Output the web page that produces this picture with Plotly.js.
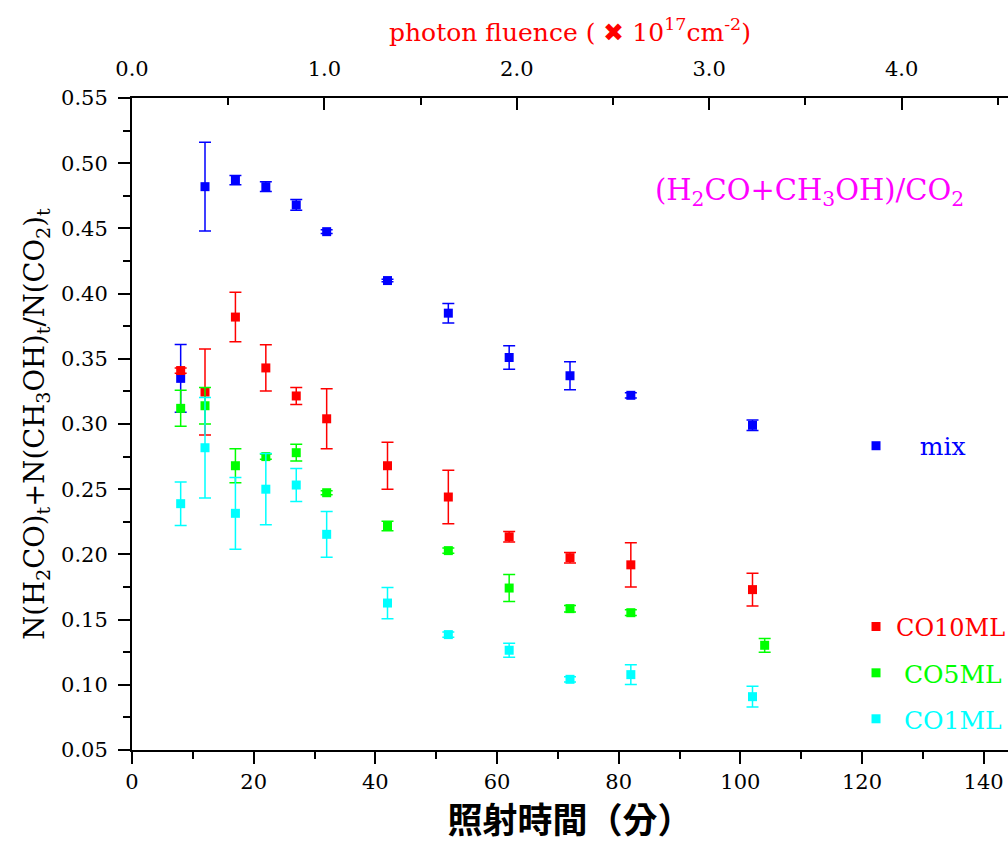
<!DOCTYPE html>
<html>
<head>
<meta charset="utf-8">
<script src="https://cdn.plot.ly/plotly-3.0.1.min.js"></script>
<style>html,body{margin:0;padding:0;background:#fff;}#chart{width:1008px;height:843px;}</style>
</head>
<body>
<div id="chart"></div>
<script>
// irradiation time (minutes)
const minutes = [8, 12, 17, 22, 27, 32, 42, 52, 62, 72, 82, 102];
const minutesCO5 = [8, 12, 17, 22, 27, 32, 42, 52, 62, 72, 82, 104];

// (H2CO+CH3OH)/CO2 ratios and error bars
const mixRatio = [0.335, 0.482, 0.487, 0.482, 0.468, 0.4475, 0.410, 0.385, 0.351, 0.337, 0.322, 0.299];
const mixErr   = [0.026, 0.034, 0.0036, 0.0037, 0.0041, 0.0015, 0.001, 0.0075, 0.009, 0.0107, 0.002, 0.004];

const co10Ratio = [0.341, 0.3245, 0.382, 0.343, 0.3215, 0.304, 0.268, 0.244, 0.2135, 0.1975, 0.192, 0.173];
const co10Err   = [0.002, 0.033, 0.019, 0.0177, 0.0065, 0.023, 0.018, 0.0205, 0.004, 0.004, 0.017, 0.0125];

const co5Ratio = [0.312, 0.314, 0.268, 0.275, 0.278, 0.2473, 0.2218, 0.2029, 0.1742, 0.1584, 0.1553, 0.1303];
const co5Err   = [0.0138, 0.014, 0.013, 0.002, 0.0064, 0.0015, 0.0037, 0.002, 0.0103, 0.0025, 0.0022, 0.0053];

const co1Ratio = [0.2389, 0.2818, 0.2315, 0.25, 0.2532, 0.2154, 0.1627, 0.1385, 0.1265, 0.1042, 0.1078, 0.0909];
const co1Err   = [0.0167, 0.0386, 0.0275, 0.0273, 0.0126, 0.0175, 0.012, 0.002, 0.0054, 0.002, 0.0075, 0.008];

const seriesNames = ['mix', 'CO10ML', 'CO5ML', 'CO1ML'];
const xTickVals = [0, 20, 40, 60, 80, 100, 120, 140];
// photon fluence (x 10^17 cm^-2) scale on top axis
const fluenceTickVals = [0, 1, 2, 3, 4];

const serif = 'DejaVu Serif, Liberation Serif, serif';
const NB = '\u00a0';

function series(x, y, err, color, name, legendId) {
  return {
    type: 'scatter', mode: 'markers', x: x, y: y, name: name,
    legend: legendId,
    marker: {symbol: 'square', size: 9, color: color},
    error_y: {type: 'data', array: err, visible: true, color: color, thickness: 1.5, width: 6},
    hoverinfo: 'x+y'
  };
}

const data = [
  series(minutes, mixRatio, mixErr, '#0000ff', NB.repeat(3) + '<span style="color:#0000ff">' + seriesNames[0] + '</span>', 'legend2'),
  series(minutes, co10Ratio, co10Err, '#ff0000', '<span style="color:#ff0000">' + seriesNames[1] + '</span>', 'legend'),
  series(minutesCO5, co5Ratio, co5Err, '#00ff00', NB + '<span style="color:#00ff00">' + seriesNames[2] + '</span>', 'legend3'),
  series(minutes, co1Ratio, co1Err, '#00ffff', NB + '<span style="color:#00ffff">' + seriesNames[3] + '</span>', 'legend4'),
  // invisible carrier so the top fluence axis is drawn
  {type: 'scatter', mode: 'markers', x: fluenceTickVals, y: fluenceTickVals.map(() => null),
   xaxis: 'x2', yaxis: 'y', showlegend: false, hoverinfo: 'skip', marker: {opacity: 0}}
];

function legendAt(y, size) {
  return {x: 0.8265, xanchor: 'left', y: y, yanchor: 'middle', xref: 'paper', yref: 'paper',
          bgcolor: 'rgba(0,0,0,0)', borderwidth: 0,
          font: {family: serif, size: size, color: '#000'}};
}

const axisCommon = {
  showline: true, linewidth: 2, linecolor: '#000', zeroline: false, showgrid: false,
  tickwidth: 2, tickcolor: '#000', ticklen: 12,
  tickfont: {family: serif, size: 21, color: '#000'}
};

const layout = {
  width: 1008, height: 843,
  margin: {l: 132, r: 0, t: 98, b: 93, autoexpand: false},
  paper_bgcolor: '#fff', plot_bgcolor: '#fff',
  showlegend: true,
  xaxis: Object.assign({}, axisCommon, {
    range: [0, 144], autorange: false, tickvals: xTickVals, ticks: 'outside',
    minor: {dtick: 10, tick0: 0, ticks: 'outside', ticklen: 7, tickwidth: 2, tickcolor: '#000'},
    title: {text: '照射時間（分）', font: {family: 'Noto Sans CJK TC, Noto Sans CJK JP, sans-serif', size: 35, color: '#000', weight: 'bold'}, standoff: 8}
  }),
  xaxis2: Object.assign({}, axisCommon, {
    overlaying: 'x', side: 'top', anchor: 'y',
    range: [0, 4.553], autorange: false, tickvals: fluenceTickVals, tickformat: '.1f', ticks: 'inside',
    ticklabelstandoff: 12,
    minor: {dtick: 0.5, tick0: 0, ticks: 'inside', ticklen: 7, tickwidth: 2, tickcolor: '#000'},
    title: {text: NB.repeat(14) + 'photon fluence ( ✖ 10<sup>17</sup>cm<sup>-2</sup>)', font: {family: serif, size: 25, color: '#ff0000'}, standoff: 8}
  }),
  yaxis: Object.assign({}, axisCommon, {
    range: [0.05, 0.55], autorange: false, dtick: 0.05, tick0: 0.05, tickformat: '.2f', ticks: 'outside',
    ticklabelstandoff: 6,
    minor: {dtick: 0.025, tick0: 0.05, ticks: 'outside', ticklen: 7, tickwidth: 2, tickcolor: '#000'},
    title: {text: NB.repeat(26) + 'N(H<sub>2</sub>CO)<sub>t</sub>+N(CH<sub>3</sub>OH)<sub>t</sub>/N(CO<sub>2</sub>)<sub>t</sub>',
            font: {family: serif, size: 27.5, color: '#000'}, standoff: 8}
  }),
  legend: legendAt(0.1887, 24),
  legend2: legendAt(0.4663, 25),
  legend3: legendAt(0.118, 25),
  legend4: legendAt(0.0475, 25),
  annotations: [{
    x: 111.3, y: 0.478, xref: 'x', yref: 'y', showarrow: false,
    text: '(H<sub>2</sub>CO+CH<sub>3</sub>OH)/CO<sub>2</sub>',
    font: {family: serif, size: 29, color: '#ff00ff'}
  }]
};

Plotly.newPlot('chart', data, layout, {displayModeBar: false, staticPlot: true});
</script>
</body>
</html>
